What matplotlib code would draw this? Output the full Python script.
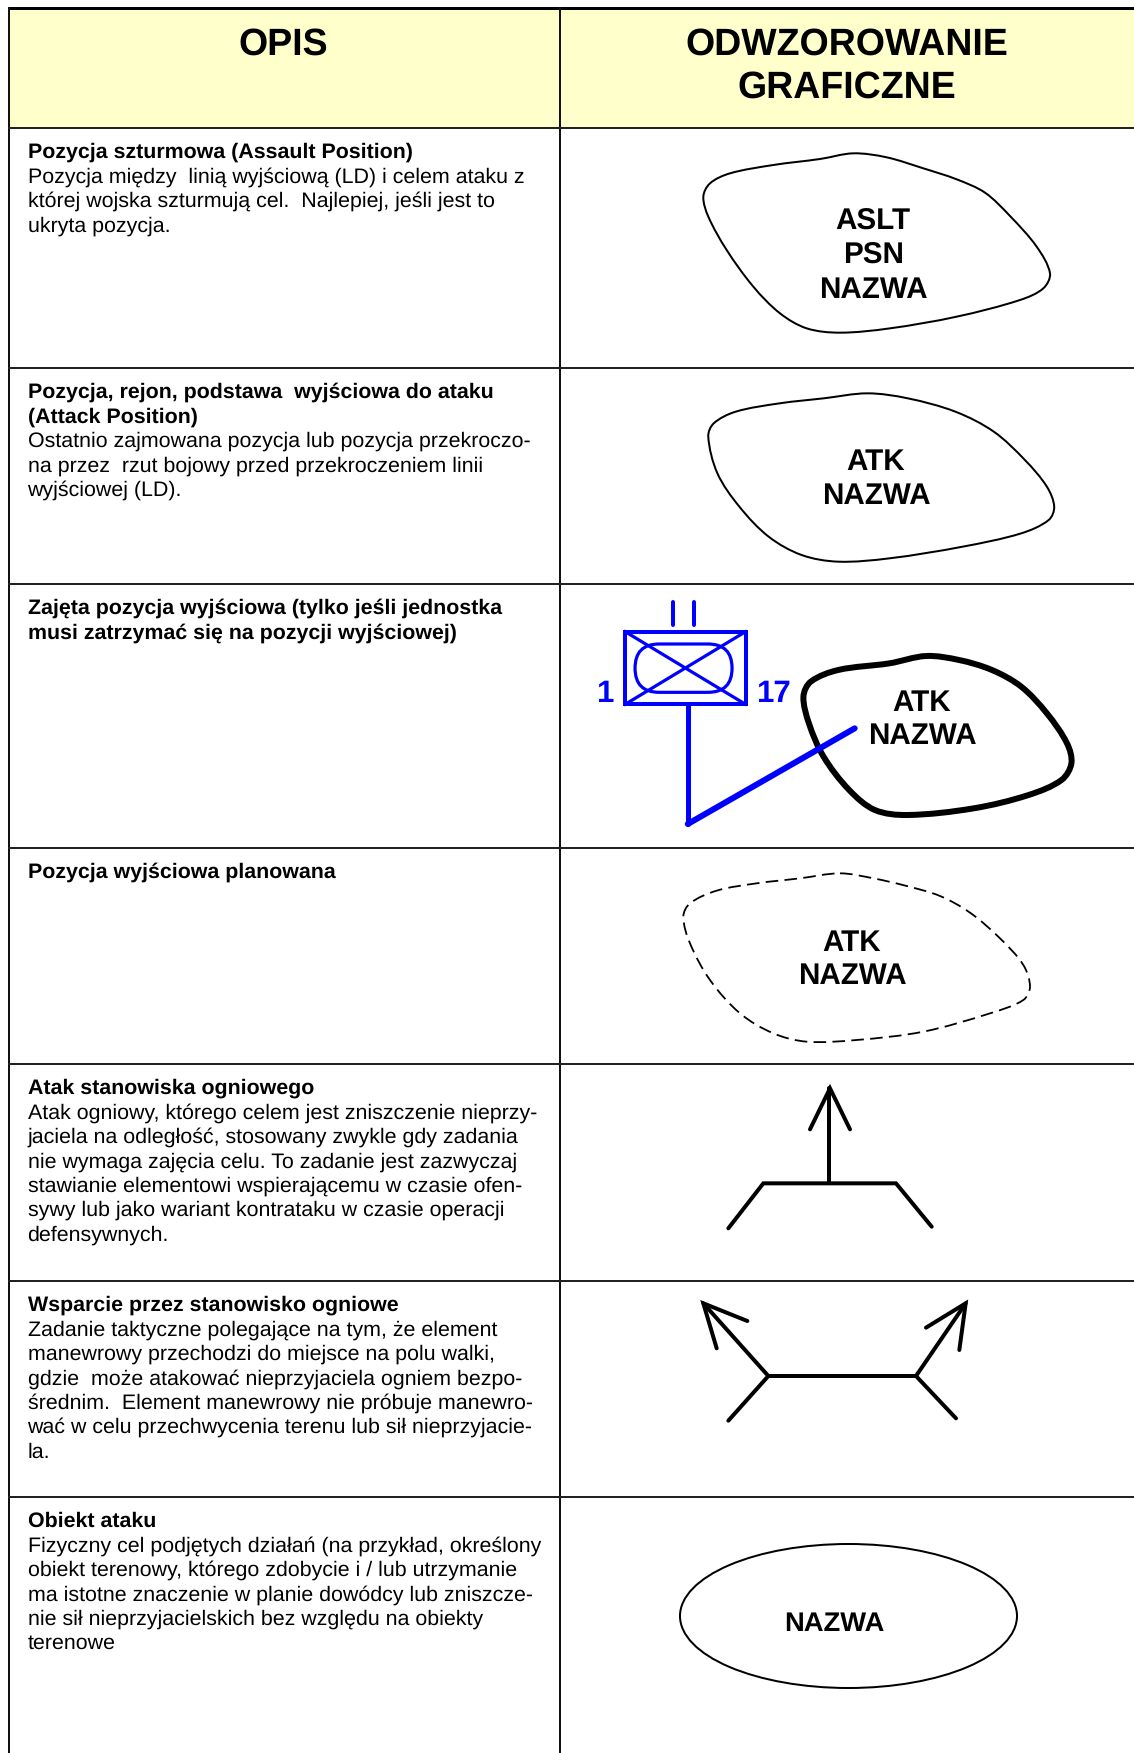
import numpy as np
import matplotlib
matplotlib.use("Agg")
import matplotlib.pyplot as plt
from matplotlib.patches import Ellipse, FancyBboxPatch, PathPatch
from matplotlib.path import Path

plt.rcParams["font.family"] = ["Liberation Sans", "DejaVu Sans"]
plt.rcParams["text.hinting"] = "no_hinting"
plt.rcParams["text.hinting_factor"] = 8

W, H = 1134, 1753
COL_X = 560
LEFT_X = 9
ROW_Y = [128, 368, 584, 848, 1064, 1281, 1497]

header_left = "OPIS"
header_right = ["ODWZOROWANIE", "GRAFICZNE"]

row_bold = [
    ["Pozycja szturmowa (Assault Position)"],
    ["Pozycja, rejon, podstawa  wyjściowa do ataku", "(Attack Position)"],
    ["Zajęta pozycja wyjściowa (tylko jeśli jednostka", "musi zatrzymać się na pozycji wyjściowej)"],
    ["Pozycja wyjściowa planowana"],
    ["Atak stanowiska ogniowego"],
    ["Wsparcie przez stanowisko ogniowe"],
    ["Obiekt ataku"],
]
row_text = [
    ["Pozycja między  linią wyjściową (LD) i celem ataku z",
     "której wojska szturmują cel.  Najlepiej, jeśli jest to",
     "ukryta pozycja."],
    ["Ostatnio zajmowana pozycja lub pozycja przekroczo-",
     "na przez  rzut bojowy przed przekroczeniem linii",
     "wyjściowej (LD)."],
    [],
    [],
    ["Atak ogniowy, którego celem jest zniszczenie nieprzy-",
     "jaciela na odległość, stosowany zwykle gdy zadania",
     "nie wymaga zajęcia celu. To zadanie jest zazwyczaj",
     "stawianie elementowi wspierającemu w czasie ofen-",
     "sywy lub jako wariant kontrataku w czasie operacji",
     "defensywnych."],
    ["Zadanie taktyczne polegające na tym, że element",
     "manewrowy przechodzi do miejsce na polu walki,",
     "gdzie  może atakować nieprzyjaciela ogniem bezpo-",
     "średnim.  Element manewrowy nie próbuje manewro-",
     "wać w celu przechwycenia terenu lub sił nieprzyjacie-",
     "la."],
    ["Fizyczny cel podjętych działań (na przykład, określony",
     "obiekt terenowy, którego zdobycie i / lub utrzymanie",
     "ma istotne znaczenie w planie dowódcy lub zniszcze-",
     "nie sił nieprzyjacielskich bez względu na obiekty",
     "terenowe"],
]

aslt_outline = [(490, 40), (590, 52), (700, 85), (800, 118), (885, 158), (960, 228), (1040, 320),
                (1080, 400), (1060, 445), (990, 480), (800, 530), (600, 565), (450, 578), (350, 565),
                (270, 520), (190, 440), (110, 330), (55, 230), (40, 170), (60, 130), (120, 100),
                (250, 75), (390, 57)]
atk_outline = [(840, 70), (950, 85), (1080, 125), (1185, 185), (1270, 270), (1330, 350),
               (1350, 410), (1335, 450), (1260, 490), (1100, 530), (900, 565), (760, 575),
               (660, 555), (570, 500), (490, 410), (430, 310), (405, 200), (420, 160),
               (480, 125), (600, 100), (720, 85)]
occupied_outline = [(1000, 858), (1090, 870), (1180, 900), (1260, 950), (1330, 1030), (1385, 1120),
                    (1397, 1180), (1370, 1230), (1280, 1275), (1130, 1315), (950, 1335), (860, 1320),
                    (790, 1260), (720, 1160), (680, 1060), (665, 980), (685, 935), (760, 900), (900, 880)]
planned_outline = [(600, 70), (700, 85), (800, 108), (900, 138), (990, 188), (1080, 265),
                   (1150, 345), (1170, 410), (1150, 450), (1050, 490), (850, 545), (650, 570),
                   (500, 575), (400, 550), (300, 490), (210, 390), (150, 280), (130, 200),
                   (150, 160), (230, 122), (350, 100), (480, 85)]

# unit symbol
unit_box = [(178, 785), (507, 1003)]
unit_oval = [(205, 822), (470, 967)]
unit_ticks = [308, 366]
unit_tick_y = [695, 765]
unit_stem = [(349, 1003), (349, 1362)]
unit_slant = [(349, 1362), (805, 1075)]

attack_stem = [(568, 1000), (568, 715)]
attack_head = [(510, 838), (570, 715), (630, 838)]
attack_base = [(265, 1135), (370, 1000), (768, 1000), (875, 1130)]

support_bar = [(265, 452), (385, 318), (828, 318), (948, 445)]
support_left = [(385, 318), (190, 100)]
support_left_head = [(322, 153), (190, 100), (230, 235)]
support_right = [(828, 318), (977, 100)]
support_right_head = [(858, 173), (977, 100), (958, 240)]

MID_SX = 1568 / 574  # that crop came back squeezed in x


def crop(points, x0, y0, sx=3):
    # crop coords to full size pixels
    pts = np.array(points, dtype=float)
    return pts / [sx, 3] + [x0, y0]


def px(n):
    return n * 72 / 100


def smooth_closed(points):
    # chord length catmull-rom through the outline points, as bezier segments
    pts = np.asarray(points, dtype=float)
    n = len(pts)
    tangents = []
    for i in range(n):
        a, b, c = pts[i - 1], pts[i], pts[(i + 1) % n]
        tangents.append((c - a) / (np.hypot(*(b - a)) + np.hypot(*(c - b))))
    verts = [pts[0]]
    codes = [Path.MOVETO]
    for i in range(n):
        p1, p2 = pts[i], pts[(i + 1) % n]
        d = np.hypot(*(p2 - p1))
        verts += [p1 + tangents[i] * d / 3, p2 - tangents[(i + 1) % n] * d / 3, p2]
        codes += [Path.CURVE4] * 3
    return Path(verts, codes)


def label(ax, x, y, s, size=21.3, color="black"):
    # y is the middle of the capitals
    ax.text(x, y + 0.358 * size * 100 / 72, s, fontsize=size, color=color, ha="center", va="baseline",
            fontweight="bold")


def line(ax, pts, width, color="black"):
    pts = np.asarray(pts)
    ax.plot(pts[:, 0], pts[:, 1], color=color, lw=px(width), solid_capstyle="round", solid_joinstyle="miter")


fig = plt.figure(figsize=(W / 100, H / 100), dpi=100)
ax = fig.add_axes([0, 0, 1, 1])
ax.set_xlim(0, W)
ax.set_ylim(H, 0)
ax.axis("off")

# table
ax.fill_between([LEFT_X, W], 8, ROW_Y[0], color="#FFFFCC", lw=0, zorder=0)
ax.plot([LEFT_X, W], [8, 8], color="black", lw=px(3))
ax.plot([LEFT_X, LEFT_X], [8, H], color="#111111", lw=px(2))
ax.plot([COL_X, COL_X], [8, H], color="#111111", lw=px(2))
for y in ROW_Y:
    ax.plot([LEFT_X, W], [y, y], color="#222222", lw=px(2))

label(ax, 283, 41, header_left, size=27)
label(ax, 847, 41, header_right[0], size=27)
label(ax, 847, 84, header_right[1], size=27)

# left column text
LINE_H = 24.4
for top, bold, body in zip(ROW_Y, row_bold, row_text):
    y = top + 30
    for s in bold:
        ax.text(27.5, y, s, fontsize=15.4, fontweight="bold", va="baseline")
        y += LINE_H
    for s in body:
        ax.text(27.5, y, s, fontsize=15.4, va="baseline")
        y += LINE_H

# assault position
ax.add_patch(PathPatch(smooth_closed(crop(aslt_outline, 690, 140)), fc="none", ec="black", lw=px(2)))
for y, s in zip([219, 253, 287], ["ASLT", "PSN", "NAZWA"]):
    label(ax, 873, y, s)

# attack position
ax.add_patch(PathPatch(smooth_closed(crop(atk_outline, 560, 370, MID_SX)), fc="none", ec="black", lw=px(2)))
label(ax, 876, 459, "ATK")
label(ax, 876, 493, "NAZWA")

# occupied
ax.add_patch(PathPatch(smooth_closed(crop(occupied_outline, 560, 370, MID_SX)), fc="none", ec="black", lw=px(6)))
label(ax, 922, 700, "ATK")
label(ax, 922, 733, "NAZWA")

blue = "#0000FF"
(bx0, by0), (bx1, by1) = crop(unit_box, 560, 370, MID_SX)
ax.plot([bx0, bx1, bx1, bx0, bx0], [by0, by0, by1, by1, by0], color=blue, lw=px(4), solid_joinstyle="miter")
ax.plot([bx0, bx1], [by0, by1], color=blue, lw=px(3.2))
ax.plot([bx0, bx1], [by1, by0], color=blue, lw=px(3.2))
(ox0, oy0), (ox1, oy1) = crop(unit_oval, 560, 370, MID_SX)
r = (oy1 - oy0) / 2
# height comes in through pad, the box itself is a flat line
ax.add_patch(FancyBboxPatch((ox0 + r, oy0 + r), ox1 - ox0 - 2 * r, 0, boxstyle=f"round,pad={r},rounding_size={r}",
                            fc="none", ec=blue, lw=px(3.2)))
for t in unit_ticks:
    line(ax, crop([(t, unit_tick_y[0]), (t, unit_tick_y[1])], 560, 370, MID_SX), 4, blue)
line(ax, crop(unit_stem, 560, 370, MID_SX), 5, blue)
line(ax, crop(unit_slant, 560, 370, MID_SX), 6, blue)
label(ax, 605, 691, "1", size=22.5, color=blue)
label(ax, 773, 691, "17", size=22.5, color=blue)

# planned, dashed
ax.add_patch(PathPatch(smooth_closed(crop(planned_outline, 640, 850)), fc="none", ec="black", lw=px(1.8),
                       ls=(0, (7, 3.5))))
label(ax, 852, 940, "ATK")
label(ax, 852, 973, "NAZWA")

# attack by fire
line(ax, crop(attack_stem, 640, 850), 4)
line(ax, crop(attack_head, 640, 850), 4)
line(ax, crop(attack_base, 640, 850), 4)

# support by fire
line(ax, crop(support_bar, 640, 1270), 4)
line(ax, crop(support_left, 640, 1270), 4)
line(ax, crop(support_left_head, 640, 1270), 4)
line(ax, crop(support_right, 640, 1270), 4)
line(ax, crop(support_right_head, 640, 1270), 4)

# objective
ax.add_patch(Ellipse((848.5, 1616), 337, 144, fc="none", ec="black", lw=px(2)))
label(ax, 834, 1621, "NAZWA", size=19.7)

fig.savefig("out.png", dpi=100)
